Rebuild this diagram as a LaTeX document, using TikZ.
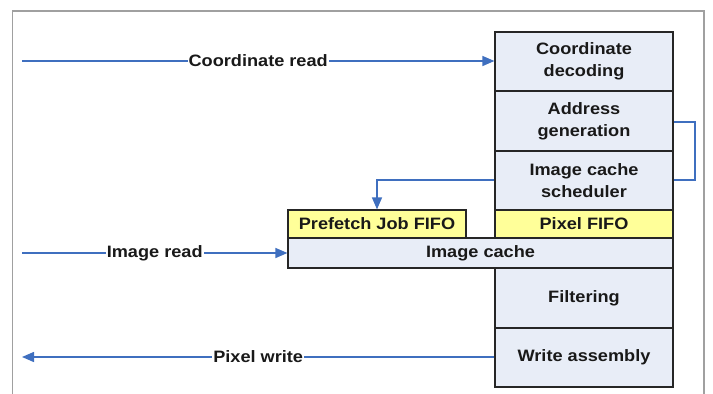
\documentclass[tikz,border=0pt]{standalone}
\usepackage{fontspec}
\setmainfont{Liberation Sans}[FakeStretch=1.1]
\usetikzlibrary{arrows.meta}
\definecolor{boxblue}{HTML}{E8EDF7}
\definecolor{boxyellow}{HTML}{FFFF99}
\definecolor{linkblue}{HTML}{3F6FBF}
\definecolor{framegray}{HTML}{A0A0A0}
\begin{document}
\begin{tikzpicture}[x=1pt,y=-1pt,
  every node/.style={font=\fontsize{16.5}{22}\selectfont\bfseries, text=black!90},
  blk/.style={draw=black!85, line width=1.2pt, fill=boxblue, align=center, inner sep=0pt, minimum width=178pt},
  yel/.style={blk, fill=boxyellow},
  link/.style={draw=linkblue, line width=1.4pt},
  arr/.style={link, -{Triangle[length=12pt,width=10pt]}},
  lbl/.style={fill=white, inner sep=1pt}]
\useasboundingbox (0,0) rectangle (713,394);
\draw[framegray, line width=1.5pt] (12.5,394) -- (12.5,11) -- (704,11) -- (704,394);
% right column
\node[blk, minimum height=59pt] (cd) at (584,61.5) {Coordinate\\decoding};
\node[blk, minimum height=60pt] (ag) at (584,121) {Address\\generation};
\node[blk, minimum height=59pt] (ics) at (584,180.5) {Image cache\\scheduler};
\node[yel, minimum height=28pt] (pf) at (584,224) {Pixel FIFO};
\node[yel, minimum height=28pt] (pjf) at (377,224) {Prefetch Job FIFO};
\node[blk, minimum width=385pt, minimum height=30pt] (ic) at (480.5,253) {Image cache};
\node[blk, minimum height=60pt] (filt) at (584,298) {Filtering};
\node[blk, minimum height=59pt] (wa) at (584,357.5) {Write assembly};
% external ends
\coordinate (crin) at (22,61);
\coordinate (irin) at (22,253);
\coordinate (pwout) at (22,357);
\draw[arr] (crin) -- node[lbl, pos=0.5] {Coordinate read} (cd.west |- crin);
\draw[arr] (irin) -- node[lbl, pos=0.5] {Image read} (ic.west |- irin);
\draw[arr] (wa.west |- pwout) -- node[lbl, pos=0.5] {Pixel write} (pwout);
% feedback
\draw[link] (ag.east |- 0,122) -- (695,122) -- (695,180) -- (ics.east |- 0,180);
\draw[arr] (ics.west |- 0,180) -- (pjf.north |- 0,180) -- (pjf.north);
\end{tikzpicture}
\end{document}
